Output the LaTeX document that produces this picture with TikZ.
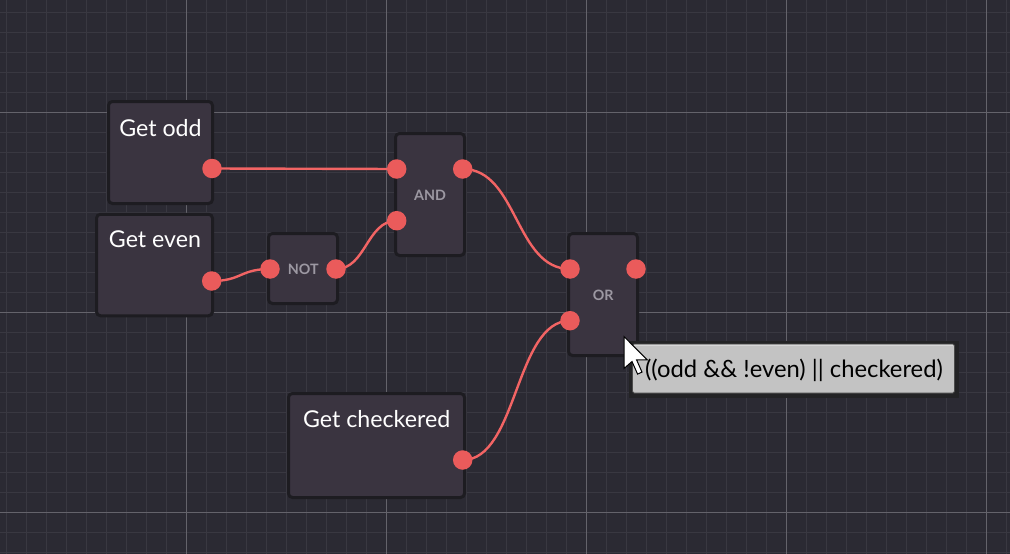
\documentclass[tikz,border=0pt]{standalone}
\usepackage{fontspec}
\setmainfont{Lato}
\usetikzlibrary{calc}
\definecolor{bgc}{HTML}{2B2A33}
\definecolor{gridminor}{HTML}{393841}
\definecolor{gridmajor}{HTML}{64636B}
\definecolor{boxfill}{HTML}{3A3440}
\definecolor{boxline}{HTML}{1D1C21}
\definecolor{labelc}{HTML}{9C98A2}
\definecolor{portc}{HTML}{EA5B5B}
\definecolor{wirec}{HTML}{F26464}
\definecolor{tipfill}{HTML}{C3C3C3}
\definecolor{tipline}{HTML}{232325}
\pgfdeclarelayer{bg}
\pgfsetlayers{bg,main}
\tikzset{
  nodebox/.style={draw=boxline, fill=boxfill, line width=3pt, rounded corners=4pt, inner sep=0pt, outer sep=0pt},
  title/.style={text=white, font=\fontsize{23.2}{26}\selectfont, anchor=base, inner sep=0pt},
  oplabel/.style={text=labelc, font=\bfseries\fontsize{14.3}{16}\selectfont, inner sep=0pt},
  port/.style={circle, fill=portc, minimum size=19.5pt, inner sep=0pt, outer sep=0pt},
  wire/.style={draw=wirec, line width=2.4pt},
}
\begin{document}
\begin{tikzpicture}[x=1pt,y=-1pt]
\useasboundingbox (0,0) rectangle (1010,554);
\begin{pgfonlayer}{bg}
\fill[bgc] (0,0) rectangle (1010,554);
\foreach \i in {0,...,50} {
  \draw[gridminor, line width=1pt] ({6.3+20*\i},0) -- ({6.3+20*\i},554);
}
\foreach \j in {0,...,27} {
  \draw[gridminor, line width=1pt] (0,{12.3+20*\j}) -- (1010,{12.3+20*\j});
}
\foreach \i in {0,...,4} {
  \draw[gridmajor, line width=1pt] ({186.3+200*\i},0) -- ({186.3+200*\i},554);
}
\foreach \j in {0,...,2} {
  \draw[gridmajor, line width=1pt] (0,{112.3+200*\j}) -- (1010,{112.3+200*\j});
}
\end{pgfonlayer}

% boxes
\node[nodebox, minimum width=104pt, minimum height=102pt] (odd) at (160.5,152.5) {};
\node[nodebox, minimum width=116pt, minimum height=101.5pt] (even) at (154.5,265) {};
\node[nodebox, minimum width=69pt, minimum height=70pt] (not) at (303,268.5) {};
\node[nodebox, minimum width=69pt, minimum height=122pt] (and) at (430,194.5) {};
\node[nodebox, minimum width=69pt, minimum height=122pt] (or) at (603,294.5) {};
\node[nodebox, minimum width=176pt, minimum height=104pt] (chk) at (376.5,445.5) {};

% titles
\node[title] (toddt) at (160.5,136) {Get odd};
\node[title] (tevent) at (155,247.5) {Get even};
\node[title] (tchkt) at (376.7,427) {Get checkered};
\node[oplabel] (lnot) at (303.3,269) {NOT};
\node[oplabel] (land) at (430,195) {AND};
\node[oplabel] (lor) at (603.3,295.3) {OR};

% ports
\node[port] (oddo) at (212,168.5) {};
\node[port] (eveno) at (211.7,281) {};
\node[port] (noti) at (270,269) {};
\node[port] (noto) at (336,269) {};
\node[port] (andi1) at (396.7,169) {};
\node[port] (andi2) at (396.7,220.7) {};
\node[port] (ando) at (462.7,169) {};
\node[port] (ori1) at (570,269) {};
\node[port] (ori2) at (570,320.7) {};
\node[port] (oro) at (636,269) {};
\node[port] (chko) at (462.7,460) {};

% wires
\begin{pgfonlayer}{bg}
\draw[wire] (oddo.center) -- (andi1.center);
\draw[wire] (eveno.center) .. controls +(30,0) and +(-30,0) .. (noti.center);
\draw[wire] (noto.center) .. controls +(30,0) and +(-30,0) .. (andi2.center);
\draw[wire] (ando.center) .. controls +(55,0) and +(-55,0) .. (ori1.center);
\draw[wire] (chko.center) .. controls +(55,0) and +(-55,0) .. (ori2.center);
\end{pgfonlayer}

% tooltip
\fill[tipline] (628.5,340.5) rectangle (958.5,397.5);
\node[fill=tipfill, draw=black!70, line width=0.8pt, rounded corners=1.5pt, minimum width=322pt, minimum height=49pt, inner sep=0pt] (tip) at (793.5,368.5) {};
\draw[white, opacity=0.35, line width=1pt] ($(tip.north west)+(2,1.5)$) -- ($(tip.north east)+(-2,1.5)$);
\node[text=black, font=\fontsize{23.8}{26}\selectfont, anchor=base, inner sep=0pt] (tiptext) at (794,377) {((odd \&\& !even) || checkered)};

% cursor
\coordinate (cur) at (624,336.5);
\draw[fill=white, draw=black, line width=1pt, line join=miter]
  (cur) -- ++(0,32) -- ++(8,-7) -- ++(5.6,12.6) -- ++(4.4,-2) -- ++(-5.4,-12.2) -- ++(10.6,0) -- cycle;
\end{tikzpicture}
\end{document}
